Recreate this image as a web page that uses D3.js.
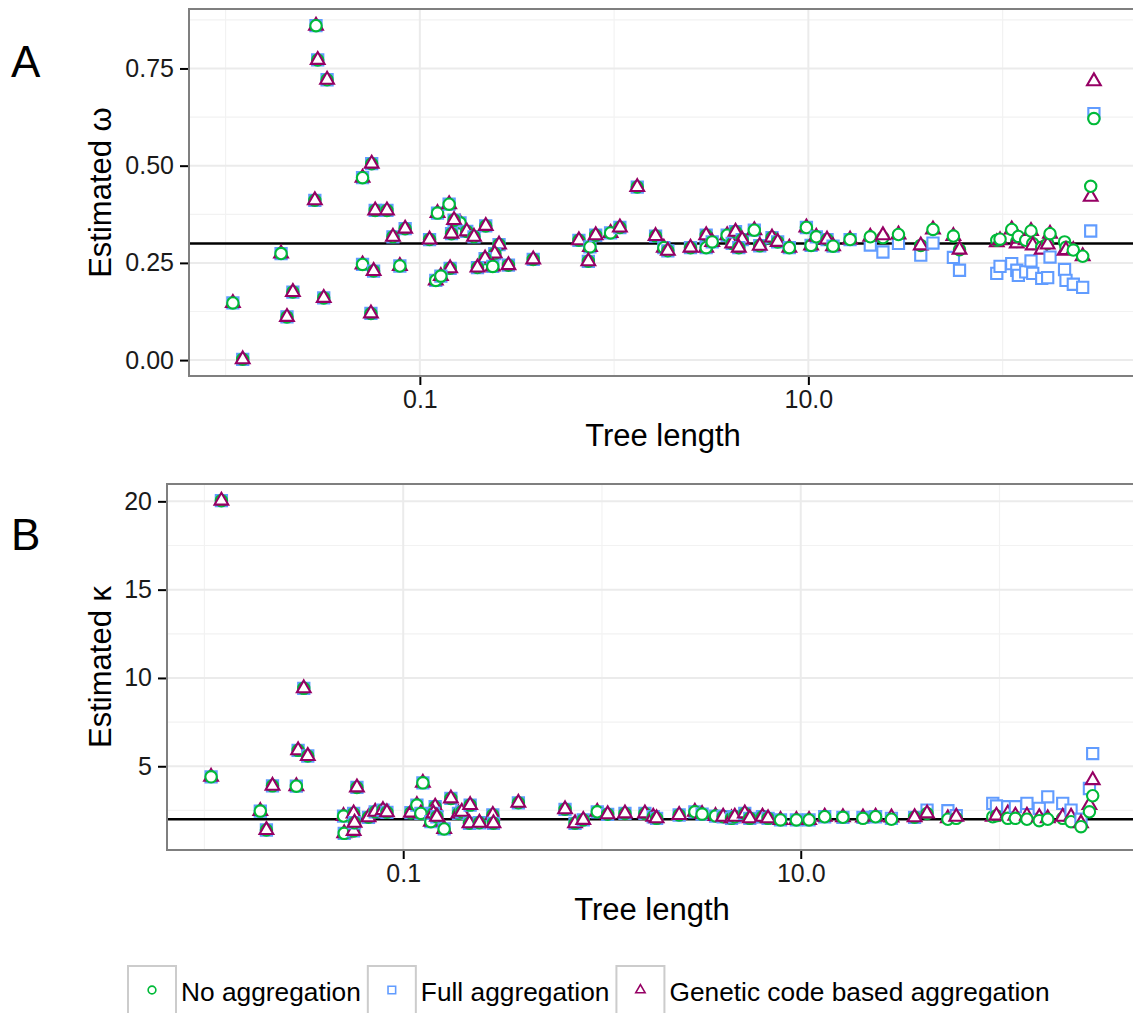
<!DOCTYPE html>
<html><head><meta charset="utf-8">
<script src="https://cdn.jsdelivr.net/npm/d3@7"></script>
<style>
body{margin:0;background:#fff}
text{font-family:"Liberation Sans",Arial,Helvetica,sans-serif}
</style>
</head><body>
<svg id="chart" width="1133" height="1013"></svg>
<script>
// ---------------- DATA ----------------
const methods = ["No aggregation", "Full aggregation", "Genetic code based aggregation"];
const xTickValues = [0.1, 10];
const xTickLabels = ["0.1", "10.0"];
const omegaTicks = [0, 0.25, 0.5, 0.75];
const omegaTickLabels = ["0.00", "0.25", "0.50", "0.75"];
const kappaTicks = [5, 10, 15, 20];
const kappaTickLabels = ["5", "10", "15", "20"];
const omegaTrue = 0.3;
const kappaTrue = 2;

// Panel A: estimated omega
const omegaTreeLength = [0.0109,0.01225,0.0193,0.0207,0.0222,0.0292,0.0298,0.0288,0.0333,0.032,
  0.0565,0.0507,0.0507,0.0578,0.0589,0.0677,0.056,0.0727,0.084,0.0789,
  0.1122,0.1233,0.1415,0.161,0.150,0.1456,0.1744,0.190,0.2184,0.2557,
  0.243,0.2167,0.198,0.2373,0.2858,0.3833,0.1432,0.1208,0.1283,
  0.659,0.751,0.737,0.804,0.959,1.071,1.316,1.635,1.803,1.891,
  2.473,2.979,2.979,3.199,3.82,4.055,4.217,4.563,4.385,5.27,
  5.62,6.50,6.95,7.98,9.77,10.33,10.99,12.48,13.4,16.4,
  20.84,24.2,29.1,37.9,43.8,55.8,60.0,93.3,97.0,111.4,
  118.3,120.5,131.5,140.0,142.9,159.0,170.6,175.4,208.4,212,
  231.2,258.3,284.1,295.1];
const omegaNo = [0.147,0.002,0.274,0.111,0.175,0.860,0.772,0.411,0.721,0.160,
  0.505,0.469,0.246,0.229,0.385,0.385,0.120,0.317,0.338,0.242,
  0.310,0.378,0.401,0.353,0.360,0.325,0.331,0.317,0.345,0.297,
  0.274,0.261,0.238,0.241,0.244,0.259,0.236,0.205,0.216,
  0.308,0.291,0.254,0.321,0.327,0.341,0.445,0.319,0.289,0.281,
  0.289,0.321,0.289,0.304,0.321,0.300,0.330,0.310,0.289,0.334,
  0.294,0.315,0.304,0.289,0.341,0.295,0.317,0.310,0.293,0.310,
  0.317,0.315,0.323,0.295,0.336,0.319,0.284,0.308,0.311,0.336,
  0.305,0.318,0.308,0.332,0.300,0.290,0.300,0.325,0.304,0.290,
  0.283,0.267,0.447,0.621];
const omegaFull = [0.147,0.002,0.274,0.111,0.175,0.860,0.772,0.411,0.721,0.160,
  0.505,0.469,0.246,0.229,0.385,0.385,0.120,0.317,0.338,0.242,
  0.310,0.378,0.401,0.353,0.360,0.325,0.331,0.317,0.345,0.297,
  0.274,0.261,0.238,0.241,0.244,0.259,0.236,0.205,0.216,
  0.308,0.291,0.254,0.321,0.327,0.341,0.445,0.319,0.289,0.281,
  0.289,0.321,0.289,0.304,0.321,0.300,0.330,0.310,0.289,0.334,
  0.294,0.315,0.304,0.289,0.341,0.295,0.317,0.310,0.293,0.310,
  0.296,0.278,0.300,0.270,0.301,0.264,0.231,0.223,0.241,0.248,
  0.231,0.218,0.227,0.255,0.223,0.210,0.212,0.265,0.233,0.205,
  0.195,0.187,0.332,0.634];
const omegaGenetic = [0.147,0.002,0.274,0.111,0.175,0.860,0.772,0.411,0.721,0.160,
  0.505,0.469,0.246,0.229,0.385,0.385,0.120,0.317,0.338,0.242,
  0.310,0.378,0.401,0.353,0.360,0.325,0.331,0.317,0.345,0.297,
  0.274,0.261,0.238,0.241,0.244,0.259,0.236,0.205,0.216,
  0.308,0.291,0.254,0.321,0.327,0.341,0.445,0.319,0.289,0.281,
  0.289,0.321,0.289,0.304,0.321,0.300,0.330,0.310,0.289,0.334,
  0.294,0.315,0.304,0.289,0.341,0.295,0.317,0.310,0.293,0.310,
  0.317,0.321,0.323,0.295,0.336,0.319,0.284,0.303,0.308,0.336,
  0.300,0.312,0.308,0.332,0.295,0.284,0.297,0.325,0.281,0.283,
  0.283,0.267,0.420,0.717];
// which marker ends up drawn last at each point (1 = circle last, 0 = triangle last)
const omegaCircleLast = [1,0,1,0,0,1,0,0,0,0, 0,1,1,0,0,0,0,0,0,1, 0,1,1,1,0,0,0,0,0,0,
  0,0,0,1,0,0,0,1,1, 0,1,0,0,1,0,0,0,1,0, 0,0,1,1,1,0,0,0,0,1, 0,0,0,1,1,1,1,0,1,1,
  1,0,1,0,1,1,0,1,1,1, 0,1,1,1,0,0,0,1,1,0, 1,1,1,1];

// Panel B: estimated kappa
const kappaTreeLength = [0.0108,0.01217,0.0191,0.0205,0.0220,0.0290,0.0296,0.0331,0.0316,
  0.0501,0.0505,0.0563,0.0563,0.0569,0.0585,0.0669,0.0723,0.0791,0.0828,
  0.1093,0.1172,0.1256,0.1227,0.1378,0.1448,0.142,0.1477,0.1607,0.1737,
  0.1897,0.1972,0.2172,0.2155,0.2417,0.2824,0.2844,0.3797,
  0.652,0.732,0.805,0.947,1.068,1.305,1.644,1.811,1.883,2.445,
  2.934,3.19,3.727,4.07,4.486,4.658,5.23,5.543,6.42,6.85,
  7.91,9.51,11.01,13.2,16.3,
  20.56,23.8,28.6,37.4,43.2,55.0,60.6,92.5,96.5,110.1,
  120.2,137.4,158.5,174.9,208,229.1,257,283.4,294.4];
const kappaNo = [4.40,20.04,2.46,1.39,3.89,3.87,5.90,5.58,9.41,
  2.18,1.20,2.33,1.34,1.80,3.80,2.11,2.42,2.52,2.39,
  2.37,2.80,4.06,2.33,1.86,2.71,2.33,2.14,1.45,3.18,
  2.33,2.42,2.80,1.77,1.80,2.24,1.77,2.93,
  2.56,1.77,1.96,2.42,2.28,2.33,2.33,2.14,2.05,2.24,
  2.42,2.29,2.18,2.14,2.05,2.14,2.33,2.05,2.14,2.05,
  1.96,1.96,1.96,2.14,2.11,
  2.05,2.14,2.00,2.11,2.33,2.00,2.05,2.14,2.20,2.05,
  2.05,2.00,1.92,2.00,2.05,1.86,1.58,2.42,3.33];
const kappaFull = [4.40,20.04,2.46,1.39,3.89,3.87,5.90,5.58,9.41,
  2.18,1.20,2.33,1.34,1.80,3.80,2.11,2.42,2.52,2.39,
  2.37,2.80,4.06,2.33,1.86,2.71,2.33,2.14,1.45,3.18,
  2.33,2.42,2.80,1.77,1.80,2.24,1.77,2.93,
  2.56,1.77,1.96,2.42,2.28,2.33,2.33,2.14,2.05,2.24,
  2.42,2.29,2.18,2.14,2.05,2.14,2.33,2.05,2.14,2.05,
  1.96,1.96,1.96,2.14,2.11,
  2.10,2.14,2.05,2.11,2.52,2.48,2.20,2.90,2.75,2.71,
  2.71,2.90,2.62,3.27,2.90,2.52,2.00,3.74,5.72];
const kappaGenetic = [4.40,20.04,2.46,1.39,3.89,3.87,5.90,5.58,9.41,
  2.18,1.20,2.33,1.34,1.80,3.80,2.11,2.42,2.52,2.39,
  2.37,2.80,4.06,2.33,1.86,2.71,2.33,2.14,1.45,3.18,
  2.33,2.42,2.80,1.77,1.80,2.24,1.77,2.93,
  2.56,1.77,1.96,2.42,2.28,2.33,2.33,2.14,2.05,2.24,
  2.42,2.29,2.18,2.14,2.05,2.14,2.33,2.05,2.14,2.05,
  1.96,1.96,1.96,2.14,2.11,
  2.10,2.14,2.10,2.11,2.33,2.05,2.14,2.14,2.20,2.33,
  2.20,2.20,2.11,2.05,2.14,2.14,1.77,2.80,4.21];
const kappaCircleLast = [1,0,1,0,0,1,0,0,0, 1,1,0,0,0,0,0,0,0,0, 0,1,1,1,1,0,0,0,1,0,
  0,0,0,0,0,0,0,0, 0,0,0,1,0,0,0,0,0,0, 1,1,1,0,0,0,0,0,0,0, 1,1,1,1,1,
  1,1,1,0,0,1,0,1,0,1, 1,1,1,1,0,1,1,1,1];

// ---------------- STYLE ----------------
const colors = ["#00BA38", "#619CFF", "#960064"];
const svg = d3.select("#chart");

// shared log x domain with 5% expansion (as ggplot)
const allX = omegaTreeLength.concat(kappaTreeLength).map(v => Math.log10(v));
const lx0 = d3.min(allX), lx1 = d3.max(allX), lpad = (lx1 - lx0) * 0.05;
const xDomain = [Math.pow(10, lx0 - lpad), Math.pow(10, lx1 + lpad)];

function shapePath(kind, s) {
  if (kind === 0) { // circle
    const r = 5.7 * s;
    return `M${-r},0A${r},${r} 0 1,0 ${r},0A${r},${r} 0 1,0 ${-r},0Z`;
  } else if (kind === 1) { // square
    const h = 5.6 * s;
    return `M${-h},${-h}H${h}V${h}H${-h}Z`;
  } else { // triangle
    const R = 7.9 * s, xc = R * Math.cos(Math.PI / 6), yc = R / 2;
    return `M0,${-R}L${xc},${yc}L${-xc},${yc}Z`;
  }
}

function drawPanel(cfg) {
  const g = svg.append("g");
  const x = d3.scaleLog().domain(xDomain).range([cfg.left, cfg.right]);
  const allY = cfg.no.concat(cfg.full, cfg.gen);
  const y0 = d3.min(allY), y1 = d3.max(allY), ypad = (y1 - y0) * 0.05;
  const y = d3.scaleLinear().domain([y0 - ypad, y1 + ypad]).range([cfg.bottom, cfg.top]);

  const clipId = "clip" + cfg.id;
  svg.append("clipPath").attr("id", clipId).append("rect")
    .attr("x", cfg.left).attr("y", cfg.top)
    .attr("width", cfg.right - cfg.left).attr("height", cfg.bottom - cfg.top);

  const grid = g.append("g").attr("clip-path", `url(#${clipId})`);
  const yMinor = [];
  const step = cfg.yTicks[1] - cfg.yTicks[0];
  cfg.yTicks.forEach((t, i) => {
    yMinor.push(t - step / 2);
    if (i === cfg.yTicks.length - 1) yMinor.push(t + step / 2);
  });
  const xMinor = [0.01, 1, 100];
  grid.selectAll(".ymin").data(yMinor).join("line")
    .attr("x1", cfg.left).attr("x2", cfg.right)
    .attr("y1", d => y(d)).attr("y2", d => y(d))
    .attr("stroke", "#F2F2F2").attr("stroke-width", 1.2);
  grid.selectAll(".xmin").data(xMinor).join("line")
    .attr("y1", cfg.top).attr("y2", cfg.bottom)
    .attr("x1", d => x(d)).attr("x2", d => x(d))
    .attr("stroke", "#F2F2F2").attr("stroke-width", 1.2);
  grid.selectAll(".ymaj").data(cfg.yTicks).join("line")
    .attr("x1", cfg.left).attr("x2", cfg.right)
    .attr("y1", d => y(d)).attr("y2", d => y(d))
    .attr("stroke", "#EBEBEB").attr("stroke-width", 2);
  grid.selectAll(".xmaj").data(xTickValues).join("line")
    .attr("y1", cfg.top).attr("y2", cfg.bottom)
    .attr("x1", d => x(d)).attr("x2", d => x(d))
    .attr("stroke", "#EBEBEB").attr("stroke-width", 2);

  grid.append("line")
    .attr("x1", cfg.left).attr("x2", cfg.right)
    .attr("y1", y(cfg.ref)).attr("y2", y(cfg.ref))
    .attr("stroke", "#000").attr("stroke-width", 2.4);

  const pts = g.append("g").attr("clip-path", `url(#${clipId})`);
  cfg.tl.forEach((t, i) => {
    const cx = x(t);
    const vals = [cfg.no[i], cfg.full[i], cfg.gen[i]];
    const order = cfg.circleLast[i] ? [1, 2, 0] : [1, 0, 2];
    order.forEach(k => {
      pts.append("path")
        .attr("d", shapePath(k, 1))
        .attr("transform", `translate(${cx},${y(vals[k])})`)
        .attr("fill", "#fff")
        .attr("stroke", colors[k]).attr("stroke-width", 2.1);
    });
  });

  g.append("rect").attr("x", cfg.left).attr("y", cfg.top)
    .attr("width", cfg.right - cfg.left).attr("height", cfg.bottom - cfg.top)
    .attr("fill", "none").attr("stroke", "#7F7F7F").attr("stroke-width", 2);

  const yAxis = d3.axisLeft(y).tickValues(cfg.yTicks)
    .tickFormat((d, i) => cfg.yLabels[i]).tickSize(8).tickPadding(6);
  const ya = g.append("g").attr("transform", `translate(${cfg.left - 1},0)`).call(yAxis);
  const xAxis = d3.axisBottom(x).tickValues(xTickValues)
    .tickFormat((d, i) => xTickLabels[i]).tickSize(8).tickPadding(5);
  const xa = g.append("g").attr("transform", `translate(0,${cfg.bottom + 1})`).call(xAxis);
  [ya, xa].forEach(a => {
    a.select(".domain").remove();
    a.selectAll(".tick line").attr("stroke", "#000").attr("stroke-width", 2);
    a.selectAll(".tick text").attr("fill", "#1a1a1a").style("font-size", "25px")
      .style("font-family", "'Liberation Sans', Arial, sans-serif");
  });

  g.append("text").attr("x", (cfg.left + cfg.right) / 2).attr("y", cfg.bottom + 70)
    .attr("text-anchor", "middle").style("font-size", "31px").attr("fill", "#000")
    .text("Tree length");
  g.append("text").attr("transform", `translate(111,${(cfg.top + cfg.bottom) / 2}) rotate(-90)`)
    .attr("text-anchor", "middle").style("font-size", "31px").attr("fill", "#000")
    .text(cfg.yTitle);
  g.append("text").attr("x", 11).attr("y", cfg.letterY)
    .style("font-size", "44px").attr("fill", "#000").text(cfg.letter);
}

drawPanel({id: "A", left: 189, right: 1137, top: 9, bottom: 376,
  tl: omegaTreeLength, no: omegaNo, full: omegaFull, gen: omegaGenetic, circleLast: omegaCircleLast,
  yTicks: omegaTicks, yLabels: omegaTickLabels, ref: omegaTrue,
  yTitle: "Estimated \u03c9", letter: "A", letterY: 77});

drawPanel({id: "B", left: 167, right: 1137, top: 484, bottom: 850,
  tl: kappaTreeLength, no: kappaNo, full: kappaFull, gen: kappaGenetic, circleLast: kappaCircleLast,
  yTicks: kappaTicks, yLabels: kappaTickLabels, ref: kappaTrue,
  yTitle: "Estimated \u03ba", letter: "B", letterY: 550});

let lxPos = 128;
methods.forEach((m, i) => {
  const gk = svg.append("g");
  gk.append("rect").attr("x", lxPos).attr("y", 966).attr("width", 48).attr("height", 48)
    .attr("fill", "#fff").attr("stroke", "#CCCCCC").attr("stroke-width", 2);
  gk.append("path").attr("d", shapePath(i, 0.68))
    .attr("transform", `translate(${lxPos + 24},${990})`)
    .attr("fill", "#fff").attr("stroke", colors[i]).attr("stroke-width", 1.6);
  const t = gk.append("text").attr("x", lxPos + 53).attr("y", 1001)
    .style("font-size", "26.3px").attr("fill", "#000").text(m);
  lxPos = lxPos + 53 + t.node().getComputedTextLength() + 7;
});
</script>
</body></html>
